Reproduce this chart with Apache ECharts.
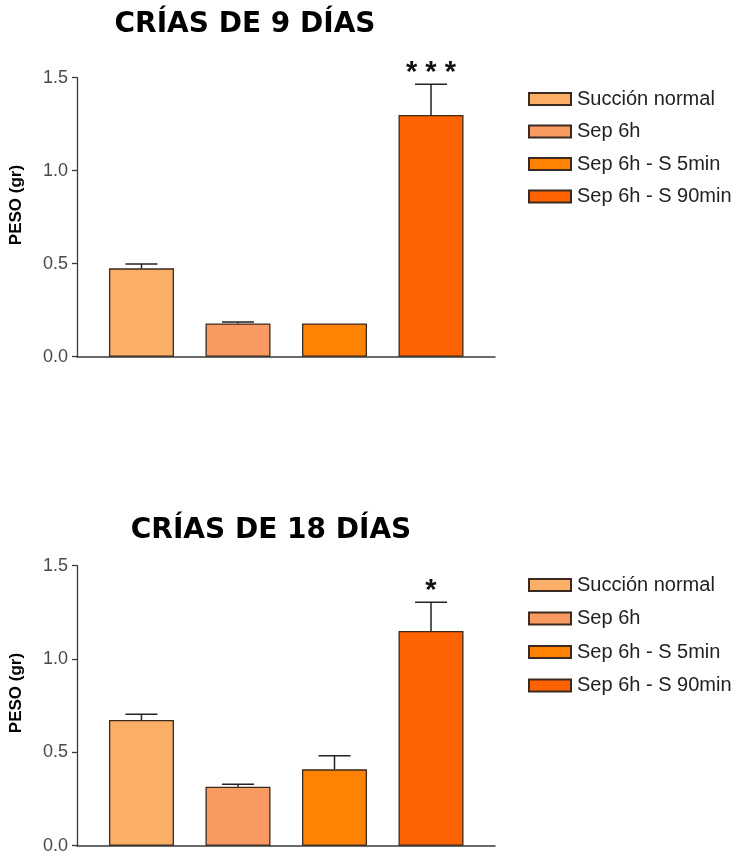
<!DOCTYPE html>
<html>
<head>
<meta charset="utf-8">
<title>Peso de las crías</title>
<script src="https://cdn.jsdelivr.net/npm/echarts@6/dist/echarts.min.js"></script>
<style>
  html, body { margin: 0; padding: 0; background: #fff; }
  #chart { width: 737px; height: 857px; }
</style>
</head>
<body>
<div id="chart"></div>
<script>
// Grupos experimentales (una barra por grupo)
const groups = ['Succión normal', 'Sep 6h', 'Sep 6h - S 5min', 'Sep 6h - S 90min'];

// Crías de 9 días: media y error (solo hacia arriba)
const peso9 = [0.475, 0.179, 0.179, 1.30];
const err9 = [0.023, 0.007, 0.0, 0.165];
const marks9 = ['', '', '', '* * *'];

// Crías de 18 días
const peso18 = [0.673, 0.316, 0.409, 1.150];
const err18 = [0.031, 0.013, 0.073, 0.154];
const marks18 = ['', '', '', '*'];

const panelTitles = ['CRÍAS DE 9 DÍAS', 'CRÍAS DE 18 DÍAS'];
const yTicks = [0, 0.5, 1.0, 1.5];
const yLabel = 'PESO (gr)';

const barColors = ['#FBAE66', '#F99A62', '#FF8205', '#FF6200'];
const edge = '#3a2a20';
const sans = 'Liberation Sans, Arial, sans-serif';

const panels = [
  { values: peso9, errors: err9, marks: marks9 },
  { values: peso18, errors: err18, marks: marks18 }
];

const chart = echarts.init(document.getElementById('chart'), null, { renderer: 'canvas' });

const grids = [
  { left: 77, top: 77.7, width: 418, height: 279 },
  { left: 77, top: 565.7, width: 418, height: 280 }
];

const xAxes = grids.map((g, p) => ({
  type: 'value', gridIndex: p,
  min: -0.668, max: 3.663,
  axisLine: { show: true, onZero: false, lineStyle: { color: '#3a3a3a', width: 1.5 } },
  axisTick: { show: false }, axisLabel: { show: false }, splitLine: { show: false }
}));

const yAxes = grids.map((g, p) => ({
  type: 'value', gridIndex: p,
  min: yTicks[0], max: yTicks[yTicks.length - 1], interval: 0.5,
  axisLine: { show: true, onZero: false, lineStyle: { color: '#3a3a3a', width: 1.3 } },
  axisTick: { show: true, length: 5, lineStyle: { color: '#3a3a3a', width: 1.3 } },
  axisLabel: {
    margin: 9, fontSize: 18, color: '#4a4a4a', fontFamily: sans,
    padding: [4, 0, 0, 0],
    formatter: v => v.toFixed(1)
  },
  splitLine: { show: false }
}));

const series = [];
panels.forEach((panel, p) => {
  groups.forEach((name, i) => {
    series.push({
      type: 'bar', name: name,
      xAxisIndex: p, yAxisIndex: p,
      barWidth: 65, barGap: '-100%',
      itemStyle: { color: barColors[i], borderColor: edge, borderWidth: 1.3 },
      data: [[i, panel.values[i]]]
    });
  });
  // Barras de error (SEM hacia arriba) y marcas de significación
  series.push({
    type: 'custom', name: 'error' + p,
    xAxisIndex: p, yAxisIndex: p,
    z: 5, silent: true,
    data: panel.values.map((v, i) => [i, v, panel.errors[i]]),
    renderItem: function (params, api) {
      const i = api.value(0), v = api.value(1), e = api.value(2);
      const mark = panel.marks[params.dataIndex];
      const base = api.coord([i, v]);
      const top = api.coord([i, v + e]);
      const children = [];
      if (e > 0) {
        children.push({
          type: 'line',
          shape: { x1: base[0], y1: base[1], x2: top[0], y2: top[1] },
          style: { stroke: '#222', lineWidth: 1.5 }
        });
        children.push({
          type: 'line',
          shape: { x1: top[0] - 16, y1: top[1], x2: top[0] + 16, y2: top[1] },
          style: { stroke: '#222', lineWidth: 1.5 }
        });
      }
      if (mark) {
        children.push({
          type: 'text',
          style: {
            text: mark, x: top[0], y: top[1] + 3,
            align: 'center', verticalAlign: 'bottom',
            font: 'bold 29px ' + sans, fill: '#111'
          }
        });
      }
      return { type: 'group', children: children };
    }
  });
});

const legendBase = {
  orient: 'vertical', left: 523,
  itemWidth: 42, itemHeight: 12, icon: 'rect',
  selectedMode: false,
  data: groups,
  textStyle: { fontSize: 20, lineHeight: 14, color: '#222', fontFamily: sans, padding: [0, 0, 0, 1] }
};

const titleStyle = { font: 'bold 28px DejaVu Sans', fill: '#000', align: 'center', verticalAlign: 'middle' };
const labelStyle = { font: 'bold 17px ' + sans, fill: '#000', align: 'center', verticalAlign: 'middle' };

chart.setOption({
  animation: false,
  grid: grids,
  xAxis: xAxes,
  yAxis: yAxes,
  legend: [
    Object.assign({}, legendBase, { top: 84, itemGap: 12.5 }),
    Object.assign({}, legendBase, { top: 570, itemGap: 13.5 })
  ],
  graphic: [
    { type: 'text', x: 245, y: 25, style: Object.assign({ text: panelTitles[0] }, titleStyle) },
    { type: 'text', x: 271, y: 531, style: Object.assign({ text: panelTitles[1] }, titleStyle) },
    { type: 'text', x: 16, y: 205, rotation: Math.PI / 2, style: Object.assign({ text: yLabel }, labelStyle) },
    { type: 'text', x: 16, y: 693, rotation: Math.PI / 2, style: Object.assign({ text: yLabel }, labelStyle) }
  ],
  series: series
});
</script>
</body>
</html>
